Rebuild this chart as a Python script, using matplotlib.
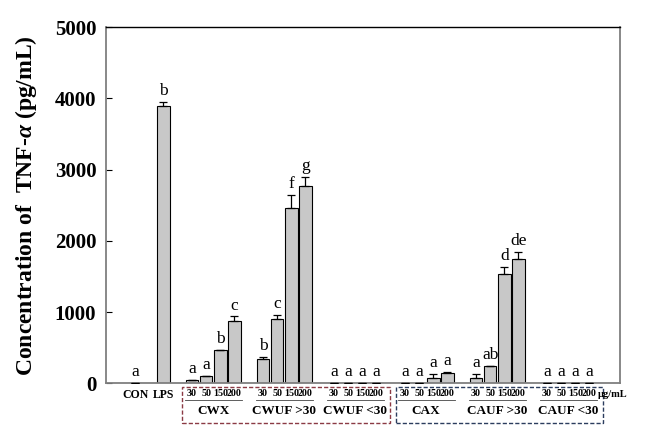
import matplotlib
matplotlib.use("Agg")
import matplotlib.pyplot as plt
import matplotlib.transforms as mtransforms
from matplotlib.patches import Rectangle

# data
single_labels = ["CON", "LPS"]
single_values = [5, 3890]
single_errors = [0, 60]
single_letters = ["a", "b"]

group_names = ["CWX", "CWUF >30", "CWUF <30", "CAX", "CAUF >30", "CAUF <30"]
doses = ["30", "50", "150", "200"]
group_values = [
    [42, 102, 466, 882],
    [350, 906, 2460, 2768],
    [5, 5, 5, 5],
    [10, 10, 80, 150],
    [80, 252, 1535, 1745],
    [5, 5, 5, 5],
]
group_errors = [
    [5, 10, 0, 60],
    [20, 55, 180, 135],
    [0, 0, 0, 0],
    [0, 0, 60, 10],
    [60, 0, 105, 105],
    [0, 0, 0, 0],
]
group_letters = [
    ["a", "a", "b", "c"],
    ["b", "c", "f", "g"],
    ["a", "a", "a", "a"],
    ["a", "a", "a", "a"],
    ["a", "ab", "d", "de"],
    ["a", "a", "a", "a"],
]

plt.rcParams["font.family"] = ["Liberation Serif", "DejaVu Serif"]
plt.rcParams["mathtext.fontset"] = "custom"
plt.rcParams["mathtext.it"] = "Liberation Serif:italic:bold"
plt.rcParams["mathtext.rm"] = "Liberation Serif:bold"


def main():
    fig = plt.figure(figsize=(6.49, 4.26), dpi=100)
    ax = fig.add_axes([0.1633, 0.0998, 0.7920, 0.8368])

    # bar positions: singles at 0, 2; groups of four with one empty slot between
    xs, vals, errs, letters, ticklabels = [], [], [], [], []
    for i, lab in enumerate(single_labels):
        xs.append(2 * i)
        vals.append(single_values[i])
        errs.append(single_errors[i])
        letters.append(single_letters[i])
        ticklabels.append(lab)
    group_starts = []
    for g in range(len(group_names)):
        start = 4 + 5 * g
        group_starts.append(start)
        for j in range(4):
            xs.append(start + j)
            vals.append(group_values[g][j])
            errs.append(group_errors[g][j])
            letters.append(group_letters[g][j])
            ticklabels.append(doses[j])

    ax.bar(xs, vals, width=0.88, color="#c8c8c8", edgecolor="black",
           linewidth=0.8, zorder=2)
    ax.errorbar(xs, vals, yerr=[[0] * len(errs), errs], fmt="none",
                ecolor="black", elinewidth=0.9, capsize=3, capthick=0.9,
                zorder=3)
    for x, v, e, l in zip(xs, vals, errs, letters):
        ax.annotate(l, (x, v + e), xytext=(0, 2), textcoords="offset points",
                    ha="center", va="bottom", fontsize=12.5)

    ax.set_xlim(-2.05, 34.15)
    ax.set_ylim(0, 5000)
    ax.set_yticks([0, 1000, 2000, 3000, 4000, 5000])
    ax.set_xticks(xs)
    ax.set_xticklabels(ticklabels, fontsize=7.2, fontweight="bold")
    for lab in ax.get_xticklabels()[:2]:
        lab.set_fontsize(8.5)
    ax.tick_params(axis="x", length=0, pad=4)
    ax.tick_params(axis="y", direction="in", length=4, width=0.8,
                   labelsize=15, pad=7)
    for lab in ax.get_yticklabels():
        lab.set_fontweight("bold")

    for side in ["left", "right", "bottom"]:
        ax.spines[side].set_color("#7f7f7f")
        ax.spines[side].set_linewidth(1.3)
    ax.spines["top"].set_color("black")
    ax.spines["top"].set_linewidth(1.0)

    ax.set_ylabel(r"Concentration of  TNF-$\alpha$ (pg/mL)", fontsize=17,
                  fontweight="bold", labelpad=11)

    trans = mtransforms.blended_transform_factory(ax.transData, ax.transAxes)
    for g, start in enumerate(group_starts):
        ax.plot([start - 0.45, start + 3.55], [-0.047, -0.047], color="#444444",
                lw=0.6, transform=trans, clip_on=False)
        ax.text(start + 1.5, -0.078, group_names[g], transform=trans,
                ha="center", va="center", fontsize=9.5, fontweight="bold")
    ax.text(32.6, -0.03, "\u03bcg/mL", transform=trans, ha="left",
            va="center", fontsize=7.5, fontweight="bold")

    ax.add_patch(Rectangle((3.29, -0.11), 14.67, 0.101, transform=trans,
                           fill=False, edgecolor="#8b3a44", lw=1.0,
                           linestyle=(0, (3, 1.5)), clip_on=False))
    ax.add_patch(Rectangle((18.38, -0.11), 14.58, 0.101, transform=trans,
                           fill=False, edgecolor="#2b3d5e", lw=1.0,
                           linestyle=(0, (3, 1.5)), clip_on=False))

    fig.savefig("out.png", dpi=100)


if __name__ == "__main__":
    main()
